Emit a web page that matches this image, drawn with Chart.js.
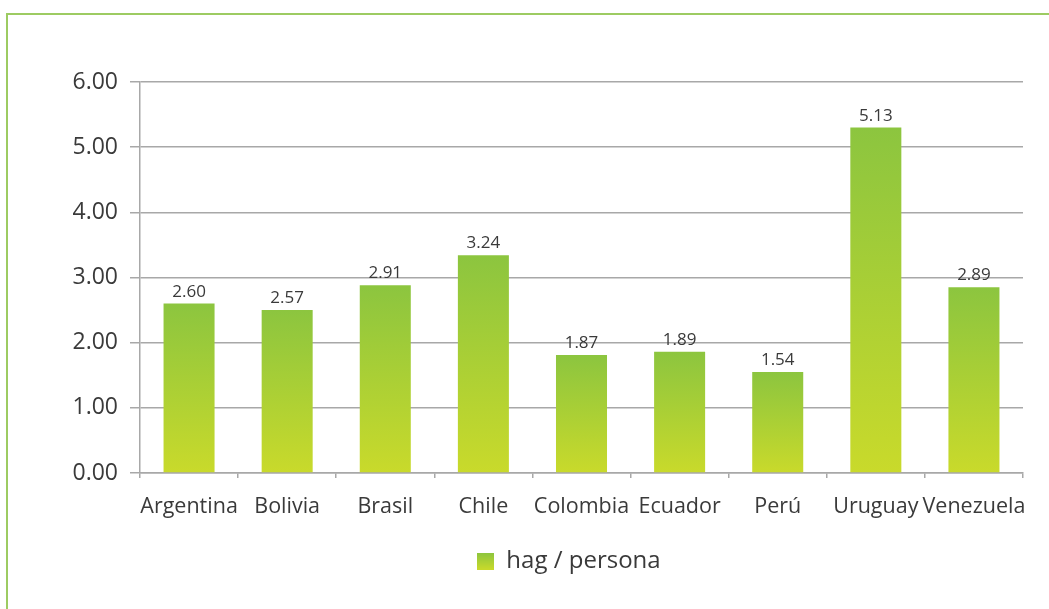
<!DOCTYPE html>
<html>
<head>
<meta charset="utf-8">
<script src="https://cdn.jsdelivr.net/npm/chart.js@4.4.1/dist/chart.umd.min.js"></script>
<style>
  html, body { margin: 0; padding: 0; background: #fff; }
  #wrap { position: relative; width: 1049px; height: 609px; overflow: hidden; }
  #frame { position: absolute; left: 6px; top: 13px; right: -10px; bottom: -10px;
           border-left: 2px solid #9dcb62; border-top: 2px solid #9dcb62; }
  canvas { position: absolute; left: 0; top: 0; }
</style>
</head>
<body>
<div id="wrap">
  <div id="frame"></div>
  <canvas id="c" width="1049" height="609"></canvas>
</div>
<script>
// Data
const categories = ['Argentina', 'Bolivia', 'Brasil', 'Chile', 'Colombia', 'Ecuador', 'Perú', 'Uruguay', 'Venezuela'];
const barHeights = [2.60, 2.50, 2.88, 3.34, 1.81, 1.86, 1.55, 5.30, 2.85];   // bar heights as drawn
const valueLabels = ['2.60', '2.57', '2.91', '3.24', '1.87', '1.89', '1.54', '5.13', '2.89']; // printed labels
const seriesName = 'hag / persona';
const yTicks = [0, 1, 2, 3, 4, 5, 6];

const TOP_GREEN = '#8cc53f';
const BOTTOM_GREEN = '#c9da2b';
const TEXT = '#3a3a3a';
const GRID = '#a8a8a8';
const FONT = "'Open Sans', 'Noto Sans', sans-serif";

// Legend swatch as gradient image
const sw = document.createElement('canvas');
sw.width = 17; sw.height = 17;
(function () {
  const c = sw.getContext('2d');
  const g = c.createLinearGradient(0, 0, 0, 17);
  g.addColorStop(0, TOP_GREEN); g.addColorStop(1, BOTTOM_GREEN);
  c.fillStyle = g; c.fillRect(0, 0, 17, 17);
})();

const valueLabelPlugin = {
  id: 'valueLabels',
  afterDatasetsDraw(chart) {
    const ctx = chart.ctx;
    const meta = chart.getDatasetMeta(0);
    ctx.save();
    ctx.font = "17px " + FONT;
    ctx.fillStyle = TEXT;
    ctx.textAlign = 'center';
    ctx.textBaseline = 'alphabetic';
    meta.data.forEach((bar, i) => {
      ctx.fillText(valueLabels[i], bar.x, bar.y - 7);
    });
    ctx.restore();
  }
};

// Legend in the reference is centred at x ~ 569
const legendShift = {
  id: 'legendShift',
  afterLayout(chart) {
    const lg = chart.legend;
    if (!lg) return;
    const d = 569 - (lg.left + lg.right) / 2;
    lg.left += d; lg.right += d;
  }
};

new Chart(document.getElementById('c'), {
  type: 'bar',
  data: {
    labels: categories,
    datasets: [{
      label: seriesName,
      data: barHeights,
      categoryPercentage: 1,
      barPercentage: 0.52,
      borderWidth: 0,
      backgroundColor: (ctx) => {
        const chart = ctx.chart;
        if (!chart.chartArea || ctx.type !== 'data') return TOP_GREEN;
        const ys = chart.scales.y;
        const top = ys.getPixelForValue(ctx.raw);
        const bottom = ys.getPixelForValue(0);
        const g = chart.ctx.createLinearGradient(0, top, 0, bottom);
        g.addColorStop(0, TOP_GREEN);
        g.addColorStop(1, BOTTOM_GREEN);
        return g;
      }
    }]
  },
  options: {
    responsive: false,
    animation: false,
    layout: { padding: { left: 60, right: 26, top: 82, bottom: 26 } },
    plugins: {
      tooltip: { enabled: false },
      legend: {
        position: 'bottom',
        labels: {
          usePointStyle: true,
          boxWidth: 17,
          boxHeight: 17,
          padding: 10,
          color: TEXT,
          font: { family: FONT, size: 24 },
          generateLabels: (chart) => [{
            text: seriesName,
            pointStyle: sw,
            fillStyle: TOP_GREEN,
            strokeStyle: 'transparent',
            lineWidth: 0,
            fontColor: TEXT,
            datasetIndex: 0,
            hidden: false
          }]
        }
      }
    },
    scales: {
      x: {
        offset: true,
        afterFit: (s) => { s.height = 66; },
        grid: { display: true, drawOnChartArea: false, drawTicks: true, tickLength: 5, offset: true, color: GRID, lineWidth: 1.5 },
        border: { display: true, color: GRID, width: 1.5 },
        ticks: { color: TEXT, font: { family: FONT, size: 21.5 }, padding: 16, maxRotation: 0, autoSkip: false }
      },
      y: {
        min: 0,
        max: 6,
        afterFit: (s) => { s.width = 80; },
        afterBuildTicks: (s) => { s.ticks = yTicks.map(v => ({ value: v })); },
        grid: { color: GRID, lineWidth: 1.5, tickLength: 10, drawTicks: true },
        border: { display: true, color: GRID, width: 1.5 },
        ticks: { color: TEXT, font: { family: FONT, size: 23 }, padding: 12, callback: (v) => Number(v).toFixed(2) }
      }
    }
  },
  plugins: [valueLabelPlugin, legendShift]
});
</script>
</body>
</html>
